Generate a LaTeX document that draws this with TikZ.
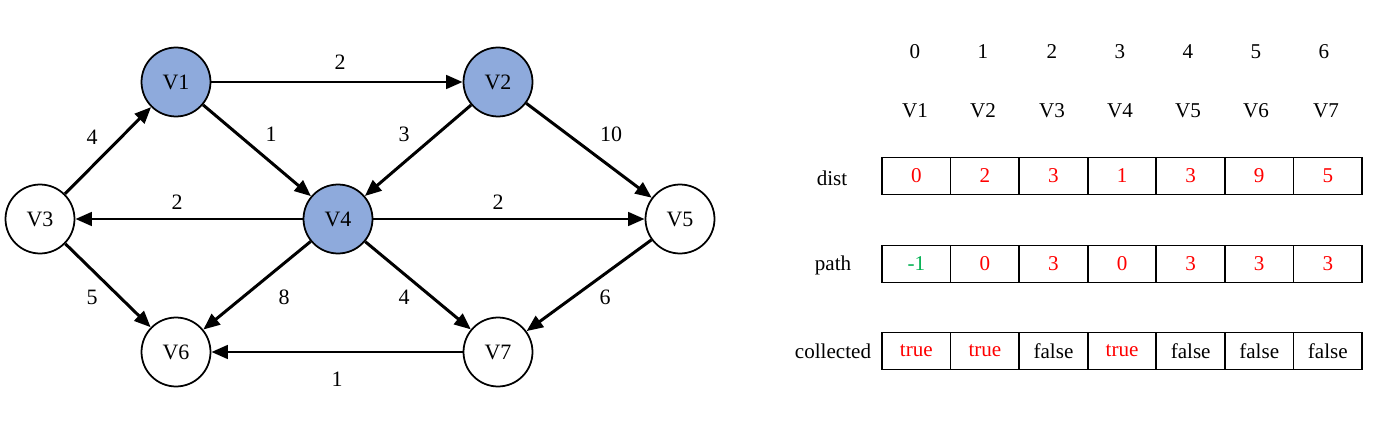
\documentclass[tikz,border=0pt]{standalone}
\usepackage{fontspec}
\setmainfont{Liberation Serif}
\usetikzlibrary{arrows.meta,positioning}
\definecolor{nodeblue}{RGB}{142,170,220}
\definecolor{truered}{RGB}{255,0,0}
\definecolor{startgreen}{RGB}{0,176,80}
\tikzset{
    CC1/.style ={circle,minimum size = 1.38cm, inner sep=0pt, draw, line width=1pt, fill=white, font=\fontsize{12.5}{14}\selectfont},
    CC2/.style ={CC1, fill=nodeblue},
    RA1/.style ={rectangle,minimum width = 1.372cm, minimum height = 0.74cm, draw, line width=1pt, outer sep=0pt, inner sep=0pt, font=\fontsize{12}{14}\selectfont},
    ED/.style ={line width=1.7pt, -{Triangle[length=0.33cm,width=0.27cm]}},
    LB/.style ={font=\fontsize{12.5}{14}\selectfont, inner sep=1pt},
    TX/.style ={font=\fontsize{12}{14}\selectfont}}
\begin{document}
\begin{tikzpicture}[x=0.02cm, y=-0.02cm]
        \useasboundingbox (0,0) rectangle (1376,429);
        % graph
        \node[CC2] (V1) at (176,82) {V1};
        \node[CC2] (V2) at (498,82) {V2};
        \node[CC1] (V3) at (40,219) {V3};
        \node[CC2] (V4) at (338,219) {V4};
        \node[CC1] (V5) at (680,219) {V5};
        \node[CC1] (V6) at (176,352) {V6};
        \node[CC1] (V7) at (498,352) {V7};
        \draw[ED] (V1) -- (V2) node[LB] (w12) at (340,62) {2};
        \draw[ED] (V1) -- (V4) node[LB] (w14) at (271,134) {1};
        \draw[ED] (V2) -- (V4) node[LB] (w24) at (404,134) {3};
        \draw[ED] (V2) -- (V5) node[LB] (w25) at (611,134) {10};
        \draw[ED] (V3) -- (V1) node[LB] (w31) at (92,137) {4};
        \draw[ED] (V4) -- (V3) node[LB] (w43) at (177,202) {2};
        \draw[ED] (V4) -- (V5) node[LB] (w45) at (498,202) {2};
        \draw[ED] (V3) -- (V6) node[LB] (w36) at (92,297) {5};
        \draw[ED] (V4) -- (V6) node[LB] (w46) at (284,297) {8};
        \draw[ED] (V4) -- (V7) node[LB] (w47) at (404,297) {4};
        \draw[ED] (V5) -- (V7) node[LB] (w57) at (605,297) {6};
        \draw[ED] (V7) -- (V6) node[LB] (w76) at (337,379) {1};
        % table header
        \node[TX] (i0) at (915,52) {0};
        \node[TX] (i1) at (983,52) {1};
        \node[TX] (i2) at (1052,52) {2};
        \node[TX] (i3) at (1120,52) {3};
        \node[TX] (i4) at (1188,52) {4};
        \node[TX] (i5) at (1256,52) {5};
        \node[TX] (i6) at (1324,52) {6};
        \node[TX] (n1) at (915,111) {V1};
        \node[TX] (n2) at (983,111) {V2};
        \node[TX] (n3) at (1052,111) {V3};
        \node[TX] (n4) at (1120,111) {V4};
        \node[TX] (n5) at (1188,111) {V5};
        \node[TX] (n6) at (1256,111) {V6};
        \node[TX] (n7) at (1326,111) {V7};
        % dist
        \node[TX] (Ldist) at (832,178) {dist};
        \node[RA1, text=truered] (d1) at (916.3,176) {0};
        \node[RA1, text=truered] (d2) [right=0pt of d1] {2};
        \node[RA1, text=truered] (d3) [right=0pt of d2] {3};
        \node[RA1, text=truered] (d4) [right=0pt of d3] {1};
        \node[RA1, text=truered] (d5) [right=0pt of d4] {3};
        \node[RA1, text=truered] (d6) [right=0pt of d5] {9};
        \node[RA1, text=truered] (d7) [right=0pt of d6] {5};
        % path
        \node[TX] (Lpath) at (833,265) {path};
        \node[RA1, text=startgreen] (p1) at (916.3,264) {-1};
        \node[RA1, text=truered] (p2) [right=0pt of p1] {0};
        \node[RA1, text=truered] (p3) [right=0pt of p2] {3};
        \node[RA1, text=truered] (p4) [right=0pt of p3] {0};
        \node[RA1, text=truered] (p5) [right=0pt of p4] {3};
        \node[RA1, text=truered] (p6) [right=0pt of p5] {3};
        \node[RA1, text=truered] (p7) [right=0pt of p6] {3};
        % collected
        \node[TX] (Lcol) at (833,351) {collected};
        \node[RA1, text=truered] (c1) at (916.3,351) {true};
        \node[RA1, text=truered] (c2) [right=0pt of c1] {true};
        \node[RA1] (c3) [right=0pt of c2] {false};
        \node[RA1, text=truered] (c4) [right=0pt of c3] {true};
        \node[RA1] (c5) [right=0pt of c4] {false};
        \node[RA1] (c6) [right=0pt of c5] {false};
        \node[RA1] (c7) [right=0pt of c6] {false};
\end{tikzpicture}
\end{document}
